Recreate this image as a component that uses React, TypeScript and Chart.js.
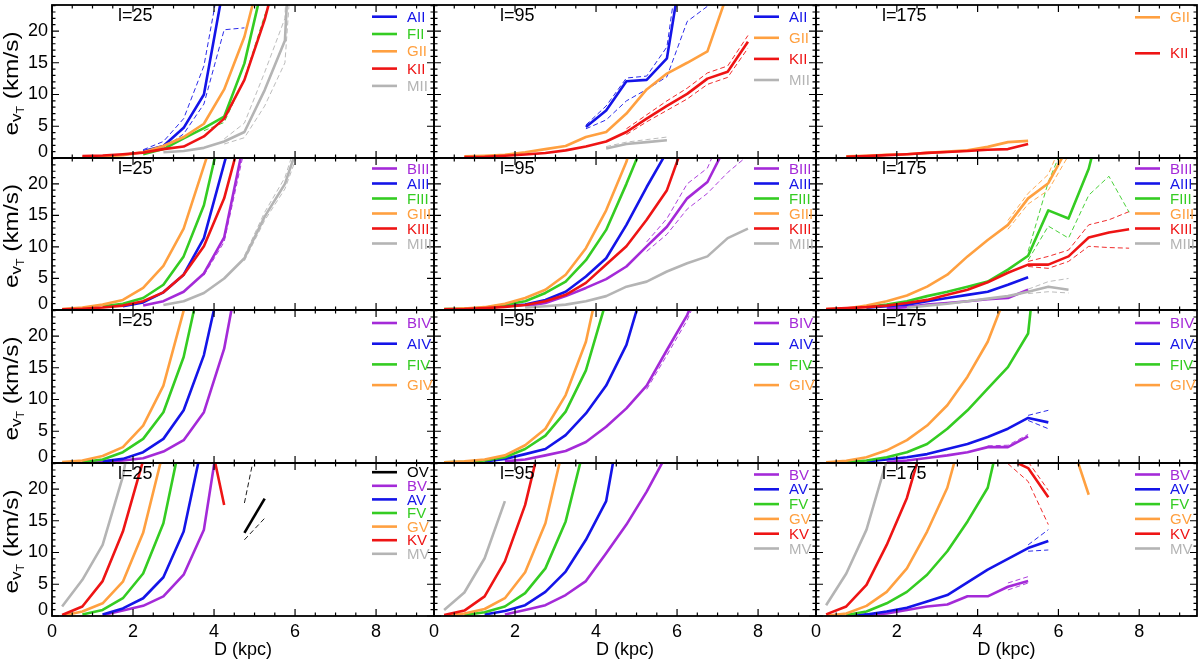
import React, { useEffect, useRef } from 'react';
import { Chart, registerables } from 'chart.js';

Chart.register(...registerables);

type Series = (number | null)[];
const _ = null;

// distance grid (kpc) shared by every curve
const D_KPC = [0.25, 0.75, 1.25, 1.75, 2.25, 2.75, 3.25, 3.75, 4.25, 4.75, 5.25, 5.75, 6.25, 6.75, 7.25, 7.75];
const X_TICKS = [0, 2, 4, 6, 8];
const Y_TICKS = [0, 5, 10, 15, 20];
const LONGITUDES = ['l=25', 'l=95', 'l=175'];
const X_LABEL = 'D (kpc)';

// ---------- Row 1: luminosity class II ----------
const L25_AII: Series = [_, _, _, _, 1.07, 1.9, 4.75, 10.0, 27.6];
const L25_AII_HI: Series = [_, _, _, _, 1.3, 2.6, 6.2, 14.5, 32];
const L25_AII_LO: Series = [_, _, _, _, 0.9, 1.5, 3.8, 8.5, 20.2, 20.5];
const L25_FII: Series = [_, _, _, _, 0.6, 1.4, 3.1, 4.7, 6.5, 14.9, 28.6];
const L25_FII_LO: Series = [_, _, _, _, _, _, _, 4.3, 5.6, 12.5, 22.5, 30];
const L25_GII: Series = [_, 0.15, 0.25, 0.45, 0.9, 1.9, 3.3, 5.4, 10.8, 19.1, 31.6];
const L25_KII: Series = [_, 0.3, 0.4, 0.6, 0.85, 1.4, 1.8, 3.4, 6.2, 12.3, 21.8, 33.9];
const L25_MII: Series = [_, _, _, _, _, 0.9, 1.1, 1.6, 2.6, 4.1, 10.7, 18.5, 80];
const L25_MII_HI: Series = [_, _, _, _, _, _, _, _, 3.0, 5.5, 13.5, 22, 100];
const L25_MII_LO: Series = [_, _, _, _, _, _, _, _, 2.2, 3.2, 8.2, 15.0, 60];

const L95_AII: Series = [_, _, _, _, _, _, _, 4.9, 7.5, 12.1, 12.3, 15.7, 35.3];
const L95_AII_HI: Series = [_, _, _, _, _, _, _, 5.2, 8.2, 12.6, 12.9, 17.5, 40];
const L95_AII_LO: Series = [_, _, _, _, _, _, _, 4.6, 6.0, 9.0, 10.8, 12.8, 21.5, 23.9, 40];
const L95_GII: Series = [_, 0.25, 0.35, 0.5, 0.9, 1.4, 1.9, 3.3, 4.1, 7.0, 10.8, 13.3, 15.0, 16.8, 26];
const L95_KII: Series = [_, 0.15, 0.2, 0.35, 0.55, 0.8, 1.2, 1.8, 2.6, 4.1, 6.2, 8.2, 10.1, 12.5, 13.6, 18.3];
const L95_KII_HI: Series = [_, _, _, _, _, _, _, _, _, 4.6, 6.8, 9.0, 11.0, 13.4, 14.5, 19.3];
const L95_KII_LO: Series = [_, _, _, _, _, _, _, _, _, 3.7, 5.7, 7.5, 9.3, 11.6, 12.7, 17.3];
const L95_MII: Series = [_, _, _, _, _, _, _, _, 1.5, 2.2, 2.5, 2.8];
const L95_MII_HI: Series = [_, _, _, _, _, _, _, _, 1.8, 2.5, 2.9, 3.3];

const L175_GII: Series = [_, 0.25, 0.35, 0.5, 0.6, 0.8, 1.0, 1.2, 1.75, 2.5, 2.7];
const L175_KII: Series = [_, 0.2, 0.3, 0.45, 0.6, 0.8, 0.95, 1.1, 1.3, 1.4, 2.2];

// ---------- Row 2: luminosity class III ----------
const L25_BIII: Series = [_, _, _, _, 0.7, 1.4, 2.9, 5.8, 11.5, 27.0];
const L25_BIII_LO: Series = [_, _, _, _, _, _, _, 5.5, 10.8, 25.5];
const L25_AIII: Series = [_, _, _, 0.6, 1.2, 2.8, 5.6, 11.4, 23.2, 35];
const L25_FIII: Series = [_, _, 0.6, 1.0, 1.9, 4.0, 8.5, 16.6, 30.6];
const L25_GIII: Series = [0.15, 0.4, 0.85, 1.6, 3.5, 7.0, 12.9, 22.8, 32.8];
const L25_KIII: Series = [0.1, 0.2, 0.4, 0.7, 1.4, 2.8, 5.6, 10.1, 17.7, 29.7];
const L25_MIII: Series = [_, _, _, _, _, 0.8, 1.4, 2.7, 5.0, 8.2, 14.8, 20.0, 29.5];
const L25_MIII_HI: Series = [_, _, _, _, _, _, _, _, _, 8.6, 15.5, 21.0, 31];
const L25_MIII_LO: Series = [_, _, _, _, _, _, _, _, _, 7.8, 14.2, 19.2, 28];

const L95_BIII: Series = [_, _, _, _, 0.6, 1.1, 2.2, 3.5, 4.9, 6.9, 10.1, 13.2, 17.7, 20.3, 26.6];
const L95_BIII_HI: Series = [_, _, _, _, _, _, _, _, _, _, 10.8, 14.5, 20.0, 22.5, 30];
const L95_BIII_LO: Series = [_, _, _, _, _, _, _, _, _, _, 9.3, 12.0, 16.0, 18.5, 21.8, 24.5];
const L95_AIII: Series = [0.1, 0.2, 0.35, 0.6, 0.85, 1.6, 2.9, 5.3, 8.2, 13.5, 19.5, 25.1];
const L95_FIII: Series = [0.15, 0.2, 0.35, 0.85, 1.4, 2.7, 4.5, 7.9, 12.7, 20.0, 27.8];
const L95_GIII: Series = [0.15, 0.25, 0.45, 1.0, 1.9, 3.2, 5.6, 9.8, 15.8, 23.5, 35];
const L95_KIII: Series = [0.1, 0.15, 0.3, 0.5, 0.8, 1.4, 2.4, 4.3, 7.2, 10.1, 14.3, 19.0, 28];
const L95_MIII: Series = [_, _, _, _, 0.4, 0.6, 0.85, 1.4, 2.2, 3.7, 4.5, 6.1, 7.4, 8.5, 11.4, 12.9];

const L175_BIII: Series = [_, _, _, 0.25, 0.45, 0.85, 1.1, 1.4, 1.7, 1.9, 3.2];
const L175_AIII: Series = [_, _, 0.35, 0.6, 0.85, 1.4, 1.9, 2.4, 2.9, 4.0, 5.2];
const L175_FIII: Series = [_, _, 0.45, 0.85, 1.4, 2.2, 2.9, 3.7, 4.5, 6.4, 8.6, 15.8, 14.5, 22.4, 35];
const L175_FIII_HI: Series = [_, _, _, _, _, _, _, _, _, _, 9.3, 20.3, 28];
const L175_FIII_LO: Series = [_, _, _, _, _, _, _, _, _, _, 7.9, 13.3, 11.4, 18.2, 21.2, 15.5];
const L175_GIII: Series = [0.15, 0.25, 0.7, 1.4, 2.3, 3.7, 5.6, 8.5, 11.1, 13.5, 17.7, 20.1, 26];
const L175_GIII_HI: Series = [_, _, _, _, _, _, _, _, _, 14.2, 18.5, 21.5, 29];
const L175_GIII_LO: Series = [_, _, _, _, _, _, _, _, _, 12.8, 16.8, 19.0, 24.5];
const L175_KIII: Series = [0.15, 0.3, 0.45, 0.7, 1.1, 1.6, 2.4, 3.2, 4.4, 5.9, 7.2, 7.2, 8.5, 11.5, 12.3, 12.8];
const L175_KIII_HI: Series = [_, _, _, _, _, _, _, _, _, _, 7.7, 8.5, 9.5, 13.5, 14.3, 15.6];
const L175_KIII_LO: Series = [_, _, _, _, _, _, _, _, _, _, 6.9, 6.6, 7.7, 10.1, 9.9, 9.8];
const L175_MIII: Series = [_, _, _, _, 0.35, 0.7, 1.0, 1.4, 1.8, 2.2, 2.9, 3.7, 3.2];
const L175_MIII_HI: Series = [_, _, _, _, _, _, _, _, _, _, 3.3, 4.5, 5.0];
const L175_MIII_LO: Series = [_, _, _, _, _, _, _, _, _, _, 2.6, 2.9, 2.7];

// ---------- Row 3: luminosity class IV ----------
const L25_BIV: Series = [_, 0.1, 0.2, 0.4, 0.75, 1.8, 3.6, 8.0, 18.0, 35];
const L25_AIV: Series = [_, _, 0.25, 0.65, 1.7, 3.8, 8.3, 17.0, 31.4];
const L25_FIV: Series = [_, 0.15, 0.55, 1.7, 3.8, 8.0, 16.7, 31.2];
const L25_GIV: Series = [0.15, 0.4, 1.1, 2.5, 5.9, 12.2, 24.0, 40];

const L95_BIV: Series = [_, _, _, 0.25, 0.55, 1.2, 1.9, 3.3, 5.7, 8.6, 12.2, 17.8, 23.3, 31];
const L95_BIV_LO: Series = [_, _, _, _, _, _, _, _, _, _, 11.6, 17.0, 22.5, 30];
const L95_AIV: Series = [_, _, 0.25, 0.65, 1.4, 2.2, 4.4, 7.8, 12.2, 18.6, 29.4];
const L95_FIV: Series = [0.1, 0.2, 0.4, 0.9, 2.2, 4.3, 8.1, 14.6, 25.5];
const L95_GIV: Series = [0.1, 0.25, 0.55, 1.2, 2.8, 5.4, 10.7, 19.1, 33.7];

const L175_BIV: Series = [_, _, _, 0.15, 0.4, 0.8, 1.2, 1.7, 2.5, 2.5, 4.2];
const L175_BIV_HI: Series = [_, _, _, _, _, _, _, _, 2.7, 2.8, 4.5];
const L175_AIV: Series = [_, _, 0.25, 0.55, 0.9, 1.4, 2.2, 3.0, 4.1, 5.4, 7.1, 6.4];
const L175_AIV_HI: Series = [_, _, _, _, _, _, _, _, _, _, 7.5, 8.3];
const L175_AIV_LO: Series = [_, _, _, _, _, _, _, _, _, _, 6.7, 5.4];
const L175_FIV: Series = [_, 0.15, 0.4, 0.9, 1.7, 3.0, 5.4, 8.3, 11.7, 15.1, 20.4, 50];
const L175_GIV: Series = [0.1, 0.35, 0.9, 2.0, 3.6, 5.9, 9.1, 13.6, 19.1, 27.3];

// ---------- Row 4: luminosity class V ----------
const L25_OV: Series = [_, _, _, _, _, _, _, _, _, 13.1, 18.5];
const L25_OV_HI: Series = [_, _, _, _, _, _, _, _, _, 17.8, 33.3];
const L25_OV_LO: Series = [_, _, _, _, _, _, _, _, _, 12.0, 15.4];
const L25_BV: Series = [_, _, 0.15, 0.85, 1.6, 3.1, 6.5, 13.6, 34];
const L25_AV: Series = [_, _, 0.25, 1.2, 2.8, 6.1, 13.3, 28.3];
const L25_FV: Series = [_, 0.25, 0.95, 2.8, 6.7, 14.6, 29.9];
const L25_GV: Series = [0.05, 0.7, 2.0, 5.4, 13.1, 26];
const L25_KV: Series = [0.15, 1.5, 5.5, 13.3, 24.5, 45, 60, 32.5, 17.5];
const L25_MV: Series = [1.5, 5.7, 11.2, 22.0, 40];

const L95_BV: Series = [_, _, _, 0.25, 0.95, 1.7, 3.3, 5.5, 9.9, 14.4, 19.6, 25.5];
const L95_AV: Series = [_, _, 0.25, 0.8, 1.7, 3.8, 7.0, 12.0, 18.1, 36];
const L95_FV: Series = [_, 0.15, 0.6, 1.5, 3.6, 7.5, 14.9, 27.7];
const L95_GV: Series = [0.05, 0.4, 1.1, 2.8, 6.9, 14.6, 28.2];
const L95_KV: Series = [0.15, 0.85, 3.1, 8.6, 17.5, 30.7];
const L95_MV: Series = [0.95, 3.7, 9.1, 18.1];

const L175_BV: Series = [_, _, 0.15, 0.4, 0.95, 1.5, 1.8, 3.1, 3.1, 4.6, 5.5];
const L175_BV_HI: Series = [_, _, _, _, _, _, _, _, _, 5.2, 6.2];
const L175_BV_LO: Series = [_, _, _, _, _, _, _, _, _, 4.1, 5.2];
const L175_AV: Series = [_, 0.05, 0.25, 0.7, 1.3, 2.3, 3.3, 5.3, 7.3, 9.0, 10.7, 11.8];
const L175_AV_HI: Series = [_, _, _, _, _, _, _, _, _, _, 11.2, 13.6];
const L175_AV_LO: Series = [_, _, _, _, _, _, _, _, _, _, 10.2, 10.4];
const L175_FV: Series = [_, 0.15, 0.7, 2.0, 3.8, 6.5, 10.2, 14.9, 20.2, 34];
const L175_GV: Series = [0.05, 0.4, 1.6, 3.8, 7.5, 13.3, 20.2, 31.7, 40, 40, 40, 40, 28.7, 19.1];
const L175_KV: Series = [0.25, 1.5, 4.9, 11.2, 18.6, 29.6, 40, 40, 40, 24.8, 23.3, 18.7];
const L175_KV_HI: Series = [_, _, _, _, _, _, _, _, _, _, 24.3, 19.8];
const L175_KV_LO: Series = [_, _, _, _, _, _, _, _, _, 24.0, 21.2, 14.4];
const L175_MV: Series = [1.7, 6.7, 13.6, 24.5, 40];

// ---------- styling / layout ----------
const COLORS: Record<string, string> = {
  O: '#000000',
  B: '#a42ad8',
  A: '#1414e8',
  F: '#34cc22',
  G: '#ffa040',
  K: '#ee1414',
  M: '#b4b4b4',
};
const FONT = '"Liberation Sans", Arial, Helvetica, sans-serif';
const COL_X = [52, 434, 816, 1197];
const ROW_Y = [5, 158, 310, 463, 616];
const X_MAX = 9.43;
const Y_MAX = 24.1;

interface PanelSpec {
  solid: [string, Series][];
  dashed: [string, Series][];
  legend: [number, number];
}

const PANELS: PanelSpec[][] = [
  [
    {
      solid: [['AII', L25_AII], ['FII', L25_FII], ['GII', L25_GII], ['KII', L25_KII], ['MII', L25_MII]],
      dashed: [['A', L25_AII_HI], ['A', L25_AII_LO], ['F', L25_FII_LO], ['M', L25_MII_HI], ['M', L25_MII_LO]],
      legend: [11.7, 17.3],
    },
    {
      solid: [['AII', L95_AII], ['GII', L95_GII], ['KII', L95_KII], ['MII', L95_MII]],
      dashed: [['A', L95_AII_HI], ['A', L95_AII_LO], ['K', L95_KII_HI], ['K', L95_KII_LO], ['M', L95_MII_HI]],
      legend: [11.7, 21.1],
    },
    {
      solid: [['GII', L175_GII], ['KII', L175_KII]],
      dashed: [],
      legend: [12.3, 36],
    },
  ],
  [
    {
      solid: [['BIII', L25_BIII], ['AIII', L25_AIII], ['FIII', L25_FIII], ['GIII', L25_GIII], ['KIII', L25_KIII], ['MIII', L25_MIII]],
      dashed: [['B', L25_BIII_LO], ['M', L25_MIII_HI], ['M', L25_MIII_LO]],
      legend: [10.5, 15],
    },
    {
      solid: [['BIII', L95_BIII], ['AIII', L95_AIII], ['FIII', L95_FIII], ['GIII', L95_GIII], ['KIII', L95_KIII], ['MIII', L95_MIII]],
      dashed: [['B', L95_BIII_HI], ['B', L95_BIII_LO]],
      legend: [10.5, 15],
    },
    {
      solid: [['BIII', L175_BIII], ['AIII', L175_AIII], ['FIII', L175_FIII], ['GIII', L175_GIII], ['KIII', L175_KIII], ['MIII', L175_MIII]],
      dashed: [
        ['F', L175_FIII_HI], ['F', L175_FIII_LO], ['G', L175_GIII_HI], ['G', L175_GIII_LO],
        ['K', L175_KIII_HI], ['K', L175_KIII_LO], ['M', L175_MIII_HI], ['M', L175_MIII_LO],
      ],
      legend: [10.5, 15],
    },
  ],
  [
    {
      solid: [['BIV', L25_BIV], ['AIV', L25_AIV], ['FIV', L25_FIV], ['GIV', L25_GIV]],
      dashed: [],
      legend: [13, 20.7],
    },
    {
      solid: [['BIV', L95_BIV], ['AIV', L95_AIV], ['FIV', L95_FIV], ['GIV', L95_GIV]],
      dashed: [['B', L95_BIV_LO]],
      legend: [13, 20.7],
    },
    {
      solid: [['BIV', L175_BIV], ['AIV', L175_AIV], ['FIV', L175_FIV], ['GIV', L175_GIV]],
      dashed: [['B', L175_BIV_HI], ['A', L175_AIV_HI], ['A', L175_AIV_LO]],
      legend: [13, 20.7],
    },
  ],
  [
    {
      solid: [['OV', L25_OV], ['BV', L25_BV], ['AV', L25_AV], ['FV', L25_FV], ['GV', L25_GV], ['KV', L25_KV], ['MV', L25_MV]],
      dashed: [['O', L25_OV_HI], ['O', L25_OV_LO]],
      legend: [9.2, 13.6],
    },
    {
      solid: [['BV', L95_BV], ['AV', L95_AV], ['FV', L95_FV], ['GV', L95_GV], ['KV', L95_KV], ['MV', L95_MV]],
      dashed: [],
      legend: [11.5, 14.8],
    },
    {
      solid: [['BV', L175_BV], ['AV', L175_AV], ['FV', L175_FV], ['GV', L175_GV], ['KV', L175_KV], ['MV', L175_MV]],
      dashed: [['B', L175_BV_HI], ['B', L175_BV_LO], ['A', L175_AV_HI], ['A', L175_AV_LO], ['K', L175_KV_HI], ['K', L175_KV_LO]],
      legend: [11.5, 14.8],
    },
  ],
];

function toPoints(s: Series) {
  const pts: { x: number; y: number }[] = [];
  D_KPC.forEach((d, i) => {
    const v = s[i];
    if (v !== null && v !== undefined) pts.push({ x: d, y: v });
  });
  return pts;
}

function drawYLabel(ctx: CanvasRenderingContext2D, cx: number, cy: number) {
  ctx.save();
  ctx.translate(cx, cy);
  ctx.rotate(-Math.PI / 2);
  ctx.scale(1.22, 1);
  const parts = [
    { t: 'e', f: 20, dy: 0 },
    { t: 'v', f: 14, dy: 3 },
    { t: 'T', f: 10, dy: 6 },
    { t: ' (km/s)', f: 20, dy: 0 },
  ];
  let total = 0;
  const widths = parts.map((p) => {
    ctx.font = `${p.f}px ${FONT}`;
    const w = ctx.measureText(p.t).width;
    total += w;
    return w;
  });
  let xp = -total / 2;
  ctx.fillStyle = '#000';
  ctx.textAlign = 'left';
  ctx.textBaseline = 'alphabetic';
  parts.forEach((p, i) => {
    ctx.font = `${p.f}px ${FONT}`;
    ctx.fillText(p.t, xp, p.dy);
    xp += widths[i];
  });
  ctx.restore();
}

function PanelChart({ row, col }: { row: number; col: number }) {
  const ref = useRef<HTMLCanvasElement>(null);
  useEffect(() => {
    const spec = PANELS[row][col];
    const x0 = COL_X[col];
    const x1 = COL_X[col + 1];
    const y0 = ROW_Y[row];
    const y1 = ROW_Y[row + 1];

    const datasets: any[] = [
      ...spec.solid
        .slice()
        .reverse()
        .map(([name, s]) => ({
          data: toPoints(s),
          borderColor: COLORS[name[0]],
          borderWidth: 2.6,
          pointRadius: 0,
          fill: false,
          tension: 0,
          clip: 0,
          borderJoinStyle: 'round',
        })),
      ...spec.dashed.map(([k, s]) => ({
        data: toPoints(s),
        borderColor: COLORS[k],
        borderWidth: 0.9,
        borderDash: [5, 3],
        pointRadius: 0,
        fill: false,
        tension: 0,
        clip: 0,
      })),
    ];

    const frame = {
      id: 'frame',
      afterDraw(chart: any) {
        const ctx: CanvasRenderingContext2D = chart.ctx;
        const a = chart.chartArea;
        const xs = chart.scales.x;
        const ys = chart.scales.y;
        ctx.save();
        // inward ticks on all four sides
        ctx.strokeStyle = '#000';
        ctx.lineWidth = 1.2;
        ctx.beginPath();
        for (let k = 0; k * 0.5 <= X_MAX; k++) {
          const px = xs.getPixelForValue(k * 0.5);
          const len = k % 4 === 0 ? 7 : 3.5;
          ctx.moveTo(px, a.bottom);
          ctx.lineTo(px, a.bottom - len);
          ctx.moveTo(px, a.top);
          ctx.lineTo(px, a.top + len);
        }
        for (let v = 0; v <= 24; v++) {
          const py = ys.getPixelForValue(v);
          const len = v % 5 === 0 ? 7 : 3.5;
          ctx.moveTo(a.left, py);
          ctx.lineTo(a.left + len, py);
          ctx.moveTo(a.right, py);
          ctx.lineTo(a.right - len, py);
        }
        ctx.stroke();
        ctx.lineWidth = 1.8;
        ctx.strokeRect(a.left, a.top, a.right - a.left, a.bottom - a.top);

        // y tick labels (left column)
        ctx.fillStyle = '#000';
        if (col === 0) {
          ctx.font = `18px ${FONT}`;
          ctx.textAlign = 'right';
          ctx.textBaseline = 'middle';
          Y_TICKS.forEach((v) => {
            const py = ys.getPixelForValue(v) - (v === 0 ? 6 : 0);
            ctx.fillText(String(v), a.left - 4, py);
          });
          drawYLabel(ctx, 18, (a.top + a.bottom) / 2 + 2);
        }
        // x tick labels (bottom row)
        if (row === 3) {
          ctx.font = `18px ${FONT}`;
          ctx.textAlign = 'center';
          ctx.textBaseline = 'middle';
          X_TICKS.forEach((v) => {
            ctx.fillText(String(v), xs.getPixelForValue(v), a.bottom + 16);
          });
          ctx.font = `18px ${FONT}`;
          ctx.fillText(X_LABEL, (a.left + a.right) / 2, 650);
        }
        // longitude label
        ctx.font = `18px ${FONT}`;
        ctx.textAlign = 'left';
        ctx.textBaseline = 'middle';
        ctx.fillStyle = '#000';
        ctx.fillText(LONGITUDES[col], a.left + 66, a.top + 11);

        // legend
        spec.solid.forEach(([name], i) => {
          const yy = a.top + spec.legend[0] + i * spec.legend[1];
          const c = COLORS[name[0]];
          ctx.strokeStyle = c;
          ctx.lineWidth = 2.6;
          ctx.setLineDash([]);
          ctx.beginPath();
          ctx.moveTo(a.right - 62, yy);
          ctx.lineTo(a.right - 37, yy);
          ctx.stroke();
          ctx.fillStyle = c;
          ctx.font = `15px ${FONT}`;
          ctx.fillText(name, a.right - 27, yy + 1);
        });
        ctx.restore();
      },
    };

    const chart = new Chart(ref.current as HTMLCanvasElement, {
      type: 'line',
      data: { datasets },
      options: {
        animation: false,
        responsive: false,
        maintainAspectRatio: false,
        events: [],
        layout: { padding: { left: x0, top: y0, right: 1200 - x1, bottom: 661 - y1 } },
        scales: {
          x: { type: 'linear', min: 0, max: X_MAX, display: false },
          y: { type: 'linear', min: 0, max: Y_MAX, display: false },
        },
        plugins: { legend: { display: false }, tooltip: { enabled: false } },
        elements: { point: { radius: 0 }, line: { tension: 0 } },
      } as any,
      plugins: [frame],
    });
    return () => chart.destroy();
  }, [row, col]);

  return (
    <canvas
      ref={ref}
      width={1200}
      height={661}
      style={{ position: 'absolute', left: 0, top: 0, width: 1200, height: 661 }}
    />
  );
}

export default function App() {
  const cells: { row: number; col: number }[] = [];
  for (let r = 0; r < 4; r++) for (let c = 0; c < 3; c++) cells.push({ row: r, col: c });
  return (
    <div style={{ position: 'absolute', left: 0, top: 0, width: 1200, height: 661, background: '#fff', overflow: 'hidden' }}>
      {cells.map(({ row, col }) => (
        <PanelChart key={`${row}-${col}`} row={row} col={col} />
      ))}
    </div>
  );
}
